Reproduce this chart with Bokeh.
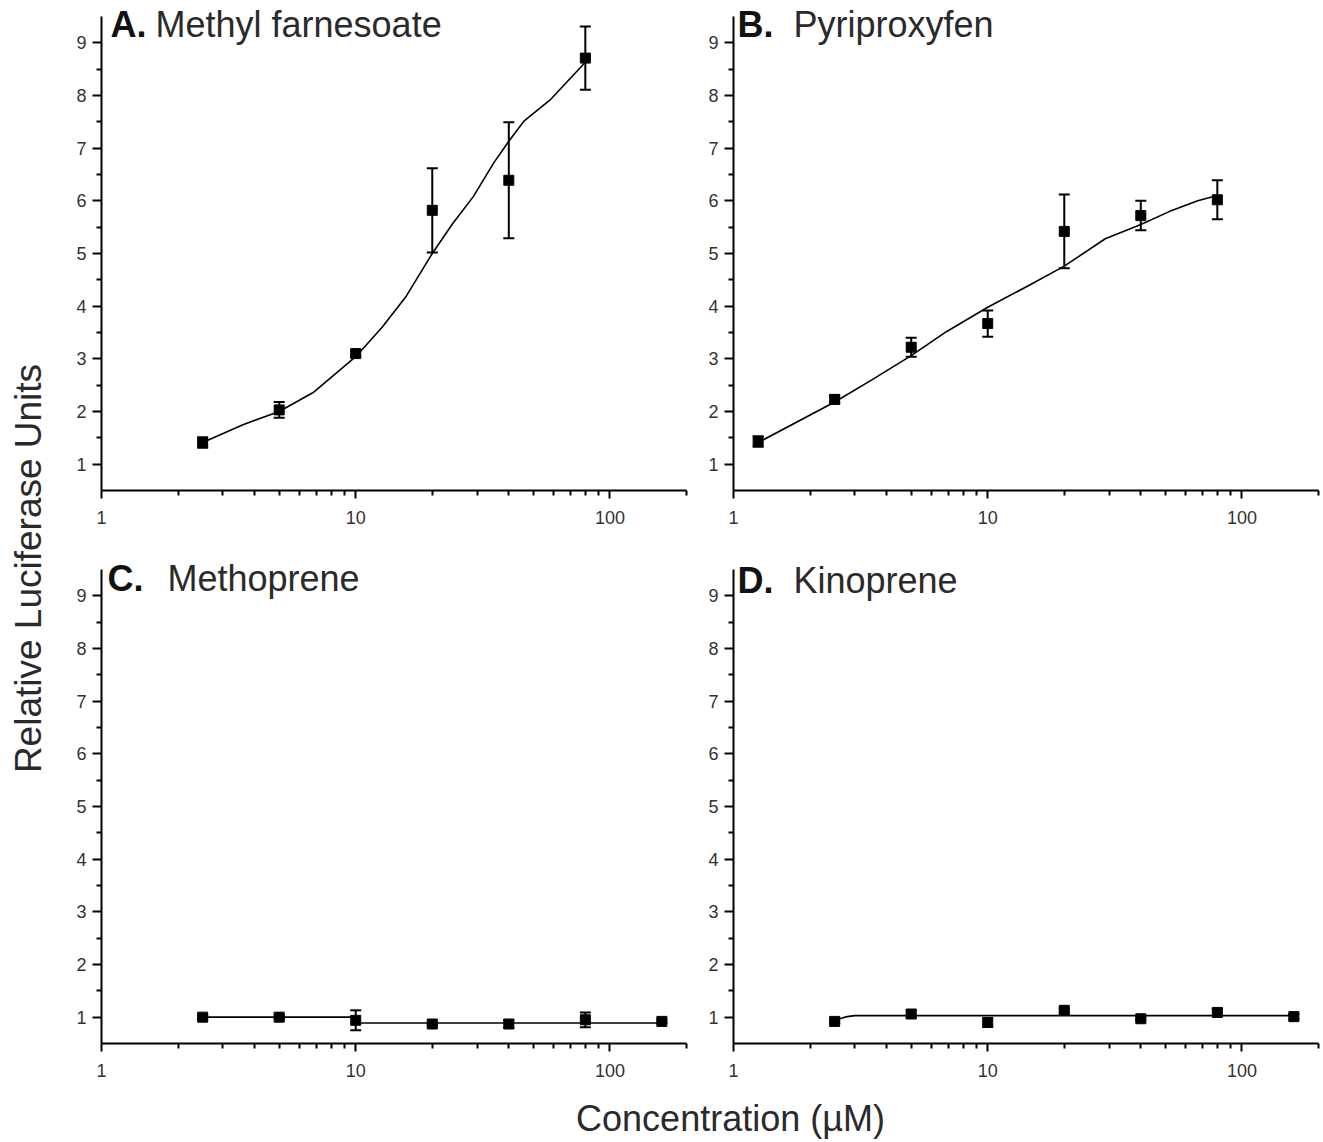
import math
from bokeh.plotting import figure
from bokeh.layouts import row, column
from bokeh.models import (Range1d, FixedTicker, PrintfTickFormatter, Label,
                          ColumnDataSource, Whisker, TeeHead)
from bokeh.embed import file_html
from bokeh.resources import INLINE

# ---------------- data ----------------
conc_A = [2.5, 5, 10, 20, 40, 80]
mean_A = [1.41, 2.03, 3.10, 5.82, 6.39, 8.71]
err_A = [0.10, 0.15, 0.05, 0.80, 1.10, 0.60]
fitx_A = [2.5, 3.6, 5, 6.8, 10, 12.7, 15.8, 20, 24, 29, 35, 40, 46, 58, 80]
fity_A = [1.41, 1.75, 2.0, 2.36, 3.04, 3.6, 4.19, 5.0, 5.56, 6.08, 6.73, 7.13, 7.52, 7.91, 8.63]

conc_B = [1.25, 2.5, 5, 10, 20, 40, 80]
mean_B = [1.43, 2.23, 3.22, 3.67, 5.42, 5.72, 6.02]
err_B = [0.10, 0.08, 0.18, 0.25, 0.70, 0.28, 0.37]
fitx_B = [1.25, 2.5, 3.5, 5, 6.9, 10, 14.2, 20, 29, 40, 52, 67, 80]
fity_B = [1.41, 2.18, 2.6, 3.06, 3.52, 3.98, 4.37, 4.76, 5.28, 5.55, 5.80, 6.0, 6.10]

conc_C = [2.5, 5, 10, 20, 40, 80, 160]
mean_C = [1.00, 1.00, 0.94, 0.87, 0.87, 0.95, 0.92]
err_C = [0.03, 0.03, 0.19, 0.03, 0.07, 0.14, 0.03]
fitx_C = [2.5, 9.9, 10.1, 160]
fity_C = [1.0, 1.0, 0.89, 0.89]

conc_D = [2.5, 5, 10, 20, 40, 80, 160]
mean_D = [0.92, 1.06, 0.90, 1.13, 0.97, 1.09, 1.01]
err_D = [0.03, 0.07, 0.08, 0.04, 0.03, 0.07, 0.05]
fitx_D = [2.5, 2.65, 2.8, 3.0, 160]
fity_D = [0.93, 0.98, 1.01, 1.03, 1.03]

x_major = [1, 10, 100]
x_minor = [2, 3, 4, 5, 6, 7, 8, 9, 20, 30, 40, 50, 60, 70, 80, 90, 200]
y_major = [1, 2, 3, 4, 5, 6, 7, 8, 9]
y_minor = [1.5, 2.5, 3.5, 4.5, 5.5, 6.5, 7.5, 8.5]
y_lo, y_hi = 0.5, 9.5

panels = [
    ("A.", "Methyl farnesoate", conc_A, mean_A, err_A, fitx_A, fity_A),
    ("B.", "Pyriproxyfen", conc_B, mean_B, err_B, fitx_B, fity_B),
    ("C.", "Methoprene", conc_C, mean_C, err_C, fitx_C, fity_C),
    ("D.", "Kinoprene", conc_D, mean_D, err_D, fitx_D, fity_D),
]

FONT = "Liberation Sans"
FW = 585
AXIS_H = 474                       # pixel height of the drawn y axis (0.5 .. 9.5)
PX_PER_UNIT = AXIS_H / (y_hi - y_lo)

# per-panel layout: borders, extra headroom above the axis, title offsets
geo = [
    dict(l=51, r=19, head=16, b=55, lx=9, tx=54, ty=466),
    dict(l=28, r=2, head=16, b=55, lx=4, tx=60, ty=466),
    dict(l=51, r=19, head=24, b=52, lx=6, tx=66, ty=465),
    dict(l=28, r=2, head=24, b=52, lx=4, tx=60, ty=463),
]


def make_panel(info, g):
    letter, name, cx, my, er, fx, fy = info
    fh = AXIS_H + g["head"]
    top = y_lo + fh / PX_PER_UNIT
    p = figure(frame_width=FW, frame_height=fh, x_axis_type="log",
               x_range=Range1d(1, 200), y_range=Range1d(y_lo, top),
               toolbar_location=None, output_backend="svg",
               min_border_left=g["l"], min_border_right=g["r"],
               min_border_top=0, min_border_bottom=g["b"])
    p.outline_line_color = None
    p.grid.visible = False
    p.background_fill_color = "white"
    p.border_fill_color = "white"

    xa = p.xaxis[0]
    xa.ticker = FixedTicker(ticks=x_major, minor_ticks=x_minor)
    xa.formatter = PrintfTickFormatter(format="%d")
    ya = p.yaxis[0]
    ya.ticker = FixedTicker(ticks=y_major, minor_ticks=y_minor)
    ya.bounds = (y_lo, y_hi)
    for ax in (xa, ya):
        ax.axis_line_width = 2
        ax.axis_line_color = "black"
        ax.major_tick_line_width = 2
        ax.minor_tick_line_width = 2
        ax.major_tick_line_color = "black"
        ax.minor_tick_line_color = "black"
        ax.major_tick_in = 0
        ax.minor_tick_in = 0
        ax.major_label_text_font = FONT
        ax.major_label_text_font_size = "18px"
        ax.major_label_text_color = "#333333"
    xa.major_tick_out = 8
    xa.minor_tick_out = 5
    xa.major_label_standoff = 12
    ya.major_tick_out = 9
    ya.minor_tick_out = 5
    ya.major_label_standoff = 6

    # fitted curve
    p.line(fx, fy, line_color="black", line_width=1.6)

    # error bars
    src = ColumnDataSource(dict(x=cx, y=my,
                                lo=[m - e for m, e in zip(my, er)],
                                hi=[m + e for m, e in zip(my, er)]))
    w = Whisker(base="x", lower="lo", upper="hi", source=src,
                line_color="black", line_width=2,
                upper_head=TeeHead(size=11, line_width=2, line_color="black"),
                lower_head=TeeHead(size=11, line_width=2, line_color="black"))
    p.add_layout(w)

    # mean markers
    p.scatter("x", "y", source=src, marker="square", size=10,
              fill_color="black", line_color="black")

    # panel titles
    p.add_layout(Label(x=g["lx"], y=g["ty"], x_units="screen", y_units="screen",
                       text=letter, text_font=FONT, text_font_style="bold",
                       text_font_size="36px", text_color="#111111",
                       text_baseline="alphabetic"))
    p.add_layout(Label(x=g["tx"], y=g["ty"], x_units="screen", y_units="screen",
                       text=name, text_font=FONT, text_font_size="36px",
                       text_color="#2a2a2a", text_baseline="alphabetic"))
    return p


figs = [make_panel(info, g) for info, g in zip(panels, geo)]

# shared y label
ylab = figure(width=50, height=1095, toolbar_location=None, output_backend="svg",
              x_axis_location=None, y_axis_location=None,
              x_range=Range1d(0, 1), y_range=Range1d(0, 1), min_border=0)
ylab.outline_line_color = None
ylab.grid.visible = False
ylab.add_layout(Label(x=28, y=527, x_units="screen", y_units="screen",
                      text="Relative Luciferase Units", angle=math.pi / 2,
                      text_align="center", text_baseline="middle",
                      text_font=FONT, text_font_size="37px", text_color="#2a2a2a"))

# shared x label
xlab = figure(width=1320, height=47, toolbar_location=None, output_backend="svg",
              x_axis_location=None, y_axis_location=None,
              x_range=Range1d(0, 1), y_range=Range1d(0, 1), min_border=0)
xlab.outline_line_color = None
xlab.grid.visible = False
xlab.add_layout(Label(x=730, y=24, x_units="screen", y_units="screen",
                      text="Concentration (\u00b5M)",
                      text_align="center", text_baseline="middle",
                      text_font=FONT, text_font_size="36px", text_color="#2a2a2a"))

grid = column(row(figs[0], figs[1]), row(figs[2], figs[3]))
page = column(row(ylab, grid), xlab)

open("out.html", "w").write(file_html(page, INLINE))
